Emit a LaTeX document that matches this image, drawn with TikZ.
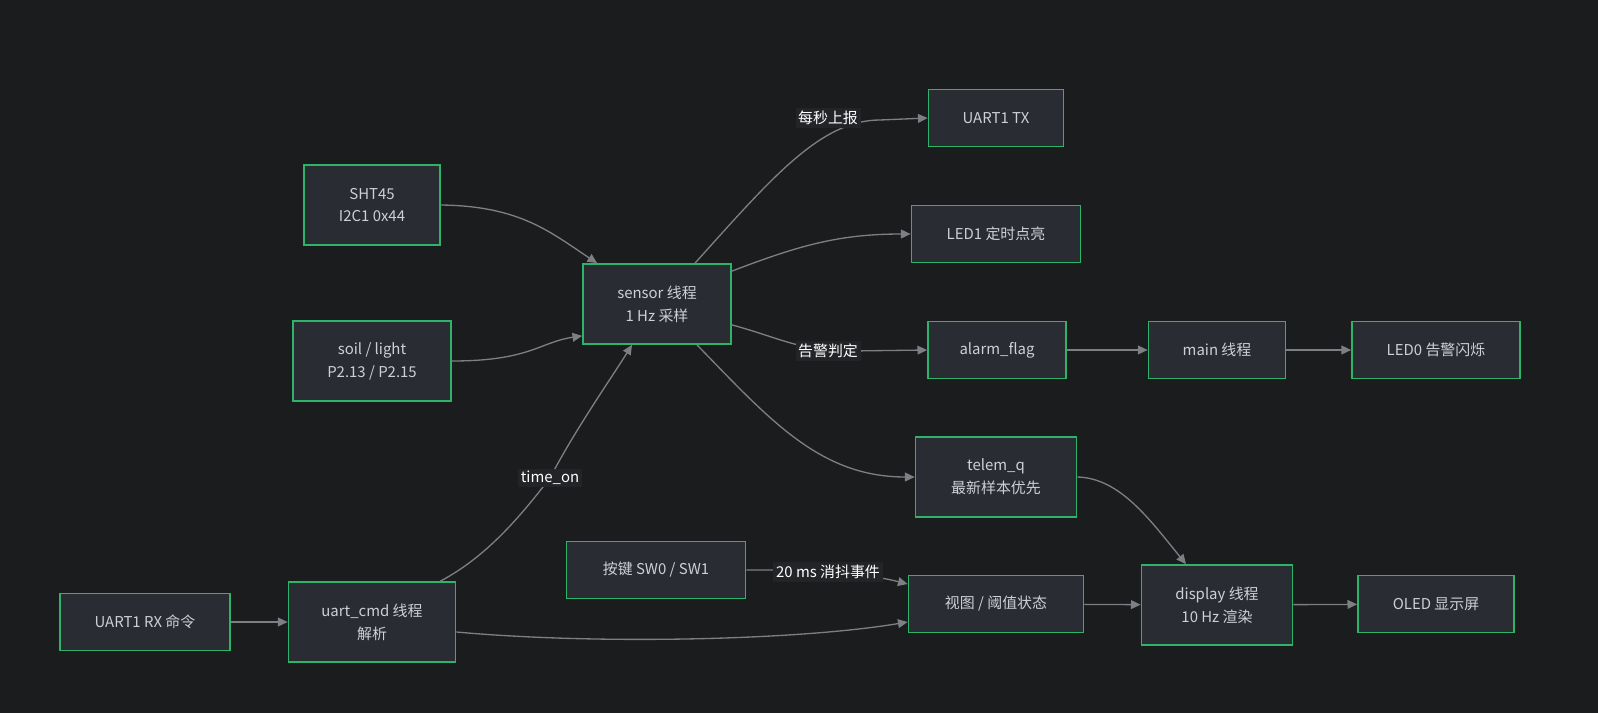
\documentclass[tikz,border=0pt]{standalone}
\usepackage{fontspec}
\setmainfont{Noto Sans CJK SC}
\usetikzlibrary{arrows.meta}
\definecolor{bgcol}{RGB}{27,28,30}
\definecolor{boxfill}{RGB}{41,44,50}
\definecolor{boxline}{RGB}{46,180,105}
\definecolor{edgecol}{RGB}{125,127,132}
\definecolor{txtcol}{RGB}{205,208,212}
\definecolor{lblfill}{RGB}{34,36,39}
\tikzset{
  box/.style={draw=boxline, fill=boxfill, line width=1pt, text=txtcol, align=center,
    inner sep=0pt, minimum height=1.14cm, font=\fontsize{8.5}{13}\selectfont},
  tall/.style={minimum height=1.6cm},
  lbl/.style={fill=lblfill, text=white, inner sep=1.5pt, font=\fontsize{8.5}{13}\selectfont},
  edge/.style={draw=edgecol, line width=0.75pt, -{Triangle[length=5.5pt,width=5pt]}},
}
\begin{document}
\begin{tikzpicture}[x=0.02cm, y=-0.02cm]
  \fill[bgcol] (0,0) rectangle (1598,713);
  \useasboundingbox (0,0) rectangle (1598,713);
  % nodes
  \node[box, tall, minimum width=2.72cm] (sht) at (372,205) {SHT45\\I2C1 0x44};
  \node[box, tall, minimum width=3.16cm] (soil) at (372,361) {soil / light\\P2.13 / P2.15};
  \node[box, tall, minimum width=2.96cm] (sensor) at (657,304) {sensor 线程\\1 Hz 采样};
  \node[box, minimum width=2.70cm] (tx) at (996,118) {UART1 TX};
  \node[box, minimum width=3.38cm] (ledone) at (996,234) {LED1 定时点亮};
  \node[box, minimum width=2.76cm] (alarm) at (997,350) {alarm\_flag};
  \node[box, minimum width=2.74cm] (main) at (1217,350) {main 线程};
  \node[box, minimum width=3.36cm] (ledzero) at (1436,350) {LED0 告警闪烁};
  \node[box, tall, minimum width=3.22cm] (telem) at (996,477) {telem\_q\\最新样本优先};
  \node[box, minimum width=3.58cm] (key) at (656,570) {按键 SW0 / SW1};
  \node[box, minimum width=3.50cm] (view) at (996,604) {视图 / 阈值状态};
  \node[box, tall, minimum width=3.02cm] (disp) at (1217,605) {display 线程\\10 Hz 渲染};
  \node[box, minimum width=3.12cm] (oled) at (1436,604) {OLED 显示屏};
  \node[box, minimum width=3.40cm] (rx) at (145,622) {UART1 RX 命令};
  \node[box, tall, minimum width=3.34cm] (cmd) at (372,622) {uart\_cmd 线程\\解析};
  % label positions
  \coordinate (ltime) at (550,478);
  \coordinate (lrep) at (828,118);
  \coordinate (lalm) at (828,351);
  \coordinate (ldeb) at (828,572);
  % connectors
  \draw[edge] (sht.east) .. controls (520,206) and (550,232) .. ([xshift=0.3cm]sensor.north west);
  \draw[edge] (soil.east) .. controls (530,361) and (540,342) .. ([yshift=0.18cm]sensor.south west);
  \draw[edge] ([xshift=-0.32cm]cmd.north east) .. controls (490,555) and (525,510) .. (ltime)
    .. controls (575,430) and (610,380) .. ([xshift=-0.5cm]sensor.south);
  \draw[edge] ([xshift=0.76cm]sensor.north) .. controls (770,180) and (820,120) .. (880,120) -- (tx.west);
  \draw[edge] ([yshift=-0.16cm]sensor.north east) .. controls (800,245) and (840,234) .. (ledone.west);
  \draw[edge] ([yshift=0.4cm]sensor.south east) .. controls (780,338) and (800,351) .. (850,351) -- (alarm.west);
  \draw[edge] ([xshift=0.8cm]sensor.south) .. controls (770,420) and (820,477) .. (telem.west);
  \draw[edge] (alarm) -- (main);
  \draw[edge] (main) -- (ledzero);
  \draw[edge] (telem.east) .. controls (1120,478) and (1150,520) .. ([xshift=-0.62cm]disp.north);
  \draw[edge] (key.east) -- (780,570) .. controls (850,572) and (880,577) .. ([yshift=0.4cm]view.west);
  \draw[edge] ([yshift=-0.2cm]cmd.east) .. controls (600,645) and (800,640) .. ([yshift=-0.36cm]view.west);
  \draw[edge] (view) -- (disp);
  \draw[edge] (disp) -- (oled);
  \draw[edge] (rx) -- (cmd);
  % labels
  \node[lbl] at (ltime) {time\_on};
  \node[lbl] at (lrep) {每秒上报};
  \node[lbl] at (lalm) {告警判定};
  \node[lbl] at (ldeb) {20 ms 消抖事件};
\end{tikzpicture}
\end{document}
